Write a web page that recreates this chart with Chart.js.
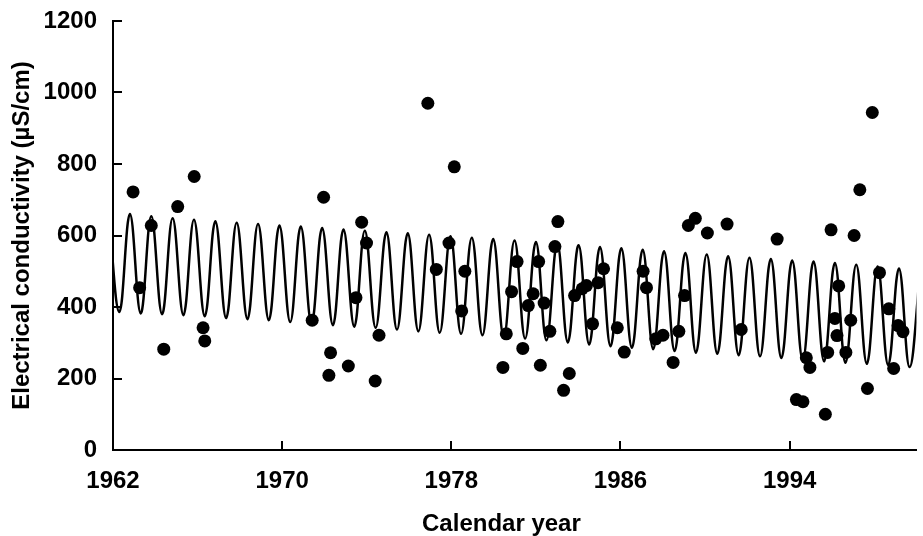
<!DOCTYPE html>
<html>
<head>
<meta charset="utf-8">
<script src="https://cdn.jsdelivr.net/npm/chart.js@4"></script>
<style>
  html, body { margin: 0; padding: 0; background: #fff; }
  #chart { display: block; }
</style>
</head>
<body>
<canvas id="chart" width="923" height="536"></canvas>
<script>
// fitted seasonal curve, read peak / trough by peak / trough
const fitYears = [
  1961.79, 1962.30, 1962.80, 1963.31, 1963.81, 1964.32, 1964.82, 1965.33, 1965.83, 1966.34,
  1966.84, 1967.35, 1967.85, 1968.36, 1968.86, 1969.37, 1969.87, 1970.38, 1970.88, 1971.39,
  1971.89, 1972.40, 1972.90, 1973.41, 1973.91, 1974.42, 1974.93, 1975.43, 1975.94, 1976.44,
  1976.95, 1977.45, 1977.96, 1978.46, 1978.97, 1979.47, 1979.98, 1980.48, 1980.99, 1981.49,
  1982.00, 1982.50, 1983.01, 1983.51, 1984.02, 1984.52, 1985.03, 1985.53, 1986.04, 1986.54,
  1987.05, 1987.55, 1988.06, 1988.56, 1989.07, 1989.57, 1990.08, 1990.58, 1991.09, 1991.59,
  1992.10, 1992.60, 1993.11, 1993.61, 1994.12, 1994.62, 1995.13, 1995.63, 1996.14, 1996.64,
  1997.15, 1997.65, 1998.16, 1998.66, 1999.17, 1999.67, 2000.18
];
const fitValues = [
  664, 386, 660, 382, 654, 380, 648, 377, 644, 374,
  640, 369, 636, 366, 632, 363, 628, 358, 625, 354,
  621, 349, 617, 345, 613, 342, 609, 337, 606, 332,
  602, 328, 598, 325, 594, 321, 590, 316, 586, 312,
  582, 307, 578, 301, 573, 295, 568, 290, 564, 286,
  560, 282, 556, 277, 551, 272, 547, 269, 542, 265,
  538, 262, 534, 257, 530, 252, 527, 248, 523, 244,
  518, 241, 513, 237, 508, 232, 504
];

// measured samples
const sampleYears = [
  1962.95, 1963.26, 1963.81, 1964.40, 1965.06, 1965.84, 1966.26, 1966.34, 1971.42, 1971.96,
  1972.21, 1972.29, 1973.13, 1973.49, 1973.76, 1973.99, 1974.40, 1974.58, 1976.89, 1977.29,
  1977.89, 1978.14, 1978.49, 1978.64, 1980.44, 1980.60, 1980.85, 1981.11, 1981.38, 1981.64,
  1981.87, 1982.13, 1982.21, 1982.39, 1982.66, 1982.90, 1983.04, 1983.31, 1983.58, 1983.83,
  1984.19, 1984.39, 1984.68, 1984.94, 1985.20, 1985.85, 1986.18, 1987.07, 1987.23, 1987.67,
  1988.01, 1988.49, 1988.76, 1989.03, 1989.21, 1989.54, 1990.11, 1991.04, 1991.71, 1993.41,
  1994.32, 1994.63, 1994.79, 1994.96, 1995.69, 1995.80, 1995.96, 1996.14, 1996.24, 1996.32,
  1996.66, 1996.89, 1997.05, 1997.32, 1997.68, 1997.91, 1998.25, 1998.69, 1998.92, 1999.13,
  1999.36
];
const sampleValues = [
  722, 454, 628, 282, 681, 765, 342, 305, 363, 707,
  209, 272, 235, 426, 637, 579, 193, 321, 970, 505,
  579, 792, 389, 500, 231, 325, 443, 527, 284, 404,
  437, 527, 237, 411, 332, 569, 639, 167, 214, 432,
  451, 460, 353, 468, 507, 342, 274, 500, 454, 311,
  321, 245, 332, 432, 628, 648, 607, 632, 337, 590,
  141, 135, 258, 231, 100, 273, 616, 368, 320, 459,
  273, 363, 600, 728, 172, 944, 496, 395, 228, 348,
  331
];

const xTickYears = [1962, 1970, 1978, 1986, 1994];
const yTickValues = [0, 200, 400, 600, 800, 1000, 1200];

const FONT = "'Liberation Sans', Arial, Helvetica, sans-serif";

// ticks point into the plot, so draw them ourselves from the scales
const inwardTicks = {
  id: "inwardTicks",
  afterDatasetsDraw(chart) {
    const { ctx, chartArea, scales } = chart;
    ctx.save();
    ctx.strokeStyle = "#000";
    ctx.lineWidth = 2;
    scales.y.ticks.forEach(t => {
      const py = Math.round(scales.y.getPixelForValue(t.value));
      ctx.beginPath();
      ctx.moveTo(chartArea.left, py);
      ctx.lineTo(chartArea.left + 9, py);
      ctx.stroke();
    });
    scales.x.ticks.forEach(t => {
      const px = Math.round(scales.x.getPixelForValue(t.value));
      ctx.beginPath();
      ctx.moveTo(px, chartArea.bottom);
      ctx.lineTo(px, chartArea.bottom - 9);
      ctx.stroke();
    });
    ctx.restore();
  }
};

new Chart(document.getElementById("chart"), {
  type: "scatter",
  data: {
    datasets: [
      {
        data: sampleYears.map((x, i) => ({ x, y: sampleValues[i] })),
        pointRadius: 6.5,
        pointHoverRadius: 6.5,
        backgroundColor: "#000",
        borderColor: "#000",
        borderWidth: 0
      },
      {
        data: fitYears.map((x, i) => ({ x, y: fitValues[i] })),
        showLine: true,
        pointRadius: 0,
        borderColor: "#000",
        borderWidth: 2.5,
        tension: 0.4
      }
    ]
  },
  options: {
    responsive: false,
    animation: false,
    devicePixelRatio: 1,
    layout: { padding: { top: 21, right: 0, left: 0, bottom: 0 } },
    plugins: { legend: { display: false }, tooltip: { enabled: false } },
    scales: {
      x: {
        type: "linear",
        min: 1962,
        max: 2000,
        grid: { display: false, drawTicks: false },
        border: { display: true, color: "#000", width: 2 },
        afterBuildTicks: s => { s.ticks = xTickYears.map(v => ({ value: v })); },
        afterFit: s => { s.height = 86; s.paddingLeft = 0; s.paddingRight = 0; },
        ticks: {
          color: "#000",
          padding: 17,
          font: { family: FONT, size: 24, weight: "bold" },
          maxRotation: 0,
          autoSkip: false,
          callback: v => String(v)
        },
        title: {
          display: true,
          // trailing spaces pull the centred title left, as in the source
          text: "Calendar year    ",
          color: "#000",
          font: { family: FONT, size: 24, weight: "bold", lineHeight: 1 },
          padding: { top: 0, bottom: 0 }
        }
      },
      y: {
        min: 0,
        max: 1200,
        grid: { display: false, drawTicks: false },
        border: { display: true, color: "#000", width: 2 },
        afterBuildTicks: s => { s.ticks = yTickValues.map(v => ({ value: v })); },
        afterFit: s => { s.width = 113; s.paddingTop = 0; s.paddingBottom = 0; },
        ticks: {
          color: "#000",
          padding: 16,
          font: { family: FONT, size: 24, weight: "bold" },
          callback: v => String(v)
        },
        title: {
          display: true,
          text: "Electrical conductivity (µS/cm)",
          color: "#000",
          font: { family: FONT, size: 24, weight: "bold" },
          padding: { top: 8, bottom: 0 }
        }
      }
    }
  },
  plugins: [inwardTicks]
});
</script>
</body>
</html>
